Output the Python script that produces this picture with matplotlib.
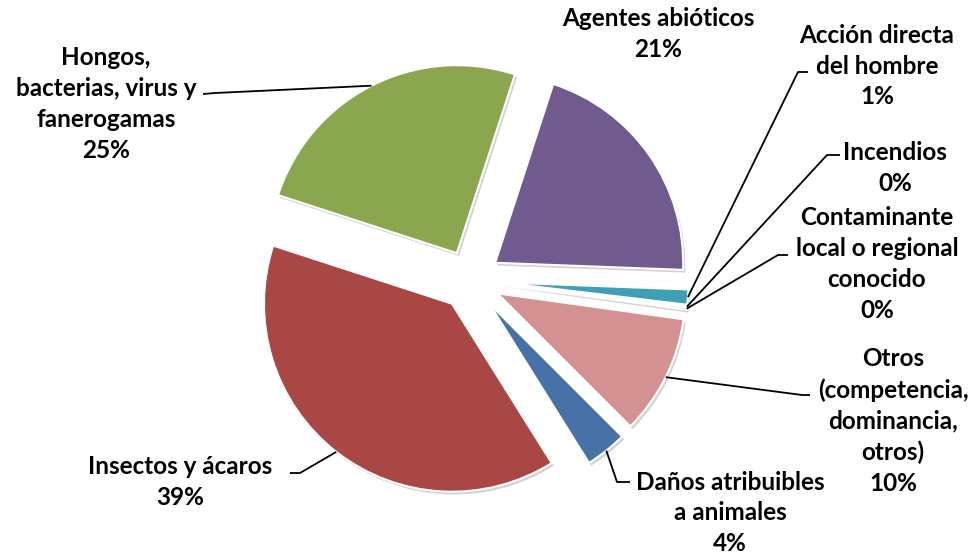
import matplotlib
matplotlib.use("Agg")
import matplotlib.pyplot as plt
import matplotlib.patheffects as pe
import numpy as np

W, H = 979, 555

categories = ["Agentes abióticos", "Acción directa\ndel hombre", "Incendios",
              "Contaminante\nlocal o regional\nconocido",
              "Otros\n(competencia,\ndominancia,\notros)",
              "Daños atribuibles\na animales", "Insectos y ácaros",
              "Hongos,\nbacterias, virus y\nfanerogamas"]
shares = [20.6, 1.3, 0.1, 0.2, 10.3, 3.6, 38.9, 25.0]
colors = ["#715A8E", "#3F9FB4", "#E8893A", "#7E9ECE",
          "#D49191", "#4672A8", "#A94744", "#8AA64F"]

# label block centres and leader elbows, image pixels (y down)
label_xy = [(658, 34), (877, 66), (895, 168), (877, 264),
            (893, 421), (730, 513), (180, 482), (106, 104)]
leader_pts = [None, ((798, 72), (808, 72)), ((827, 155), (840, 155)),
              ((778, 255), (788, 255)), ((802, 395), (810, 395)),
              ((617, 482), (630, 482)), ((300, 473), (290, 473)),
              ((215, 93), (203, 94))]

plt.rcParams['font.family'] = ['Lato', 'DejaVu Sans']

fig = plt.figure(figsize=(W / 100, H / 100), dpi=100)
ax = fig.add_axes([0, 0, 1, 1])

RADIUS = 188
shadow = [pe.SimplePatchShadow(offset=(1.5, -2), shadow_rgbFace="#808080", alpha=0.35),
          pe.Normal()]
# pie() takes explode in data units, so the 16 % offset is scaled by the radius
wedges, _ = ax.pie(shares, colors=colors, startangle=72, counterclock=False,
                   center=(470.5, H - 280), radius=RADIUS,
                   explode=[0.16 * RADIUS] * len(shares),
                   wedgeprops=dict(edgecolor="white", linewidth=1.5))
for w in wedges:
    w.set_path_effects(shadow)

for w, cat, v, (lx, ly), pts in zip(wedges, categories, shares, label_xy, leader_pts):
    ax.text(lx, H - ly, f"{cat}\n{round(v)}%", ha="center", va="center",
            multialignment="center", fontsize=17.5, fontweight="bold",
            linespacing=1.42, color="black")
    if pts is None:
        continue
    mid = np.deg2rad((w.theta1 + w.theta2) / 2)
    cx, cy = w.center
    anchor = (cx + w.r * np.cos(mid), cy + w.r * np.sin(mid))
    (ex, ey), (tx, ty) = pts
    ax.plot([anchor[0], ex, tx], [anchor[1], H - ey, H - ty], color="black", lw=1.3,
            solid_capstyle="butt")

ax.set_xlim(0, W)
ax.set_ylim(0, H)
ax.set_aspect("equal")
ax.axis("off")
fig.savefig("out.png", dpi=100, facecolor="white")
